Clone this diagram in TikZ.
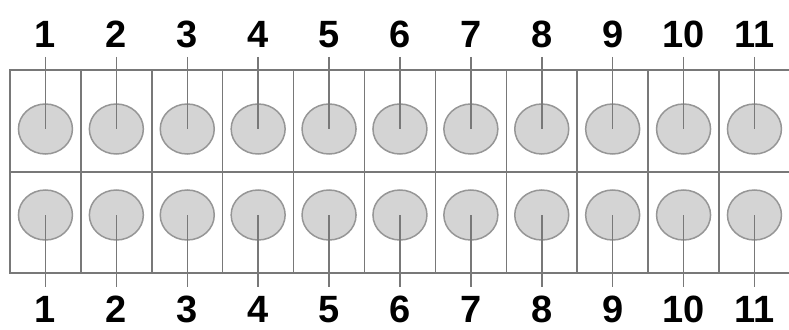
\documentclass[tikz,border=0pt]{standalone}
\usepackage{fontspec}
\setmainfont{Liberation Sans}
\usetikzlibrary{positioning}
\usetikzlibrary{shapes.geometric}
\definecolor{frame}{RGB}{120,120,120}
\definecolor{pinfill}{RGB}{212,212,212}
\definecolor{pinedge}{RGB}{150,150,150}
\tikzset{
  pin/.style={ellipse, draw=pinedge, fill=pinfill, line width=1.5pt,
    minimum width=54pt, minimum height=50pt, inner sep=0pt},
  num/.style={font=\bfseries\fontsize{38}{38}\selectfont, inner sep=0pt, anchor=base}
}

\begin{document}
\begin{tikzpicture}[x=1pt, y=-1pt]
    \useasboundingbox (0,0) rectangle (789,329);
    \clip (0,0) rectangle (789,329);
    % Terminal block frame
    \draw[frame, line width=1.5pt] (10,70) rectangle (790,273);
    \draw[frame, line width=1.5pt] (10,172) -- (790,172);
    \foreach \i in {1,...,10} {
        \draw[frame, line width=1.5pt] ({10 + 70.9*\i},70) -- ({10 + 70.9*\i},273);
    }
    % Pins and numbers
    \foreach \i in {1,...,11} {
        \node[pin] (up\i) at ({10 + 70.9*(\i - 0.5)},129) {};
        \node[pin] (lo\i) at ({10 + 70.9*(\i - 0.5)},215) {};
        \node[num] (tn\i) at ({10 + 70.9*(\i - 0.5)},48) {\i};
        \node[num] (bn\i) at ({10 + 70.9*(\i - 0.5)},322) {\i};
        \coordinate (tl\i) at ({10 + 70.9*(\i - 0.5)},57);
        \coordinate (bl\i) at ({10 + 70.9*(\i - 0.5)},287);
        \draw[frame, line width=1.5pt] (tl\i) -- (up\i.center);
        \draw[frame, line width=1.5pt] (lo\i.center) -- (bl\i);
    }
\end{tikzpicture}
\end{document}
